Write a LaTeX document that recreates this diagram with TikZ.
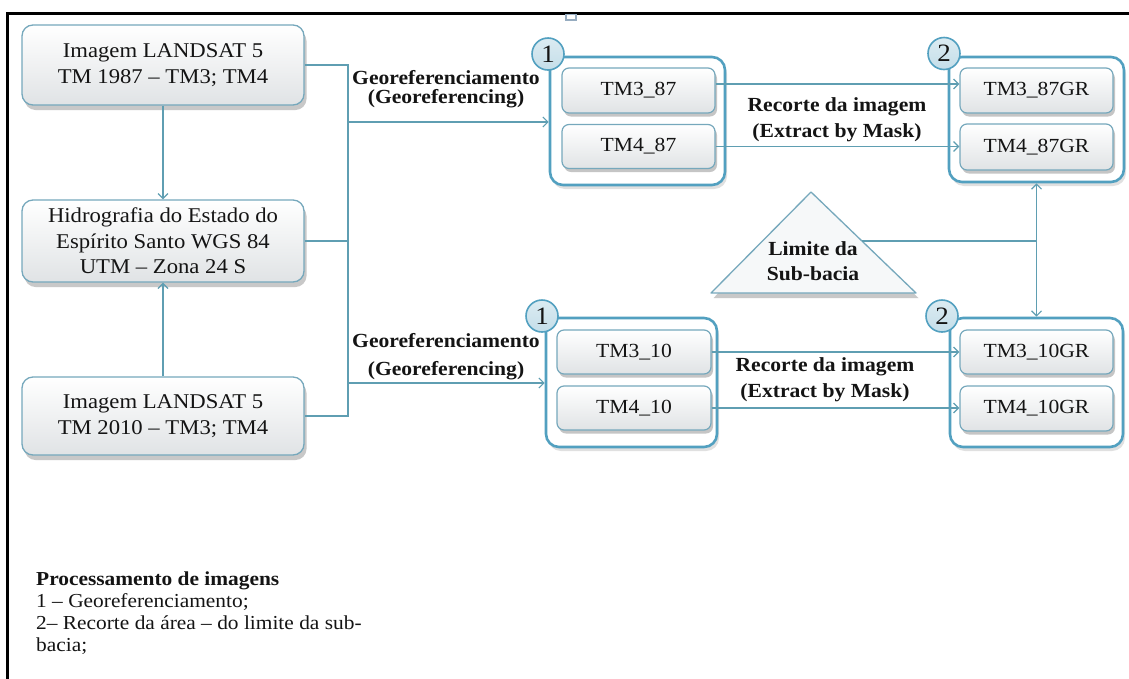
\documentclass[tikz,border=0pt]{standalone}
\usepackage{fontspec}
\setmainfont{Liberation Serif}[FakeStretch=1.08]
\usetikzlibrary{arrows.meta,shadows}
\definecolor{grpc}{RGB}{82,160,192}
\definecolor{connc}{RGB}{95,158,178}
\definecolor{boxc}{RGB}{118,168,188}
\definecolor{boxbot}{RGB}{224,227,229}
\definecolor{numfill}{RGB}{196,222,233}
\definecolor{trifill}{RGB}{246,248,249}
\definecolor{textc}{RGB}{20,20,20}
\definecolor{handlec}{RGB}{150,172,192}
\newcommand\bxfont{\fontsize{21}{25.5}\selectfont}
\newcommand\tmfont{\fontsize{20}{24}\selectfont}
\begin{document}
\begin{tikzpicture}[x=1pt,y=-1pt,
  shd/.style={drop shadow={shadow xshift=2.5pt,shadow yshift=-5pt,opacity=0.3,fill=black!70}},
  src/.style={draw=boxc,line width=1.3pt,rounded corners=11pt,top color=white,bottom color=boxbot,
    minimum width=282pt,align=center,font=\bxfont,text=textc,inner sep=0pt,shd},
  grp/.style={draw=grpc,line width=2.6pt,rounded corners=13pt,fill=white,inner sep=0pt,
    drop shadow={shadow xshift=2pt,shadow yshift=-4pt,opacity=0.2,fill=black!60}},
  inbox/.style={draw=boxc,line width=1.2pt,rounded corners=7pt,top color=white,bottom color=boxbot,
    minimum width=153pt,inner sep=0pt,font=\tmfont,text=textc,
    drop shadow={shadow xshift=2pt,shadow yshift=-3.5pt,opacity=0.32,fill=black!70}},
  num/.style={circle,draw=grpc,line width=1.6pt,top color=numfill!60,bottom color=numfill,minimum size=32pt,inner sep=0pt,
    font=\fontsize{25}{25}\selectfont,text=textc},
  conn/.style={draw=connc,line width=1.4pt},
  arr/.style={conn,-{Straight Barb[length=5pt,width=10pt,line width=1.2pt]}},
  darr/.style={conn,{Straight Barb[length=5pt,width=10pt,line width=1.2pt]}-{Straight Barb[length=5pt,width=10pt,line width=1.2pt]}},
  lbl/.style={align=center,inner sep=0pt,text=textc}
]
\useasboundingbox (0,0) rectangle (1129,678);
\fill[white] (0,0) rectangle (1129,678);
% frame
\draw[line width=3pt,black] (7,700) -- (7,13) -- (1150,13);
\draw[line width=1.2pt,draw=handlec] (566,14.5) rectangle (576,20);

% left boxes
\node[src,minimum height=80pt] (b1) at (163,65) {Imagem LANDSAT 5\\TM 1987 -- TM3; TM4};
\node[src,minimum height=82pt] (b2) at (163,241) {Hidrografia do Estado do\\Espírito Santo WGS 84\\UTM -- Zona 24 S};
\node[src,minimum height=78pt] (b3) at (163,416) {Imagem LANDSAT 5\\TM 2010 -- TM3; TM4};

% groups
\node[grp,minimum width=175pt,minimum height=128pt] (g1) at (637.5,121) {};
\node[grp,minimum width=175pt,minimum height=125pt] (g2) at (1036.5,119.5) {};
\node[grp,minimum width=171pt,minimum height=129pt] (g3) at (631.5,382.5) {};
\node[grp,minimum width=173pt,minimum height=129pt] (g4) at (1036.5,382.5) {};

% inner boxes
\node[inbox,minimum height=45pt] (t387) at (638.5,90.5) {TM3\_87};
\node[inbox,minimum height=44pt] (t487) at (638.5,146.5) {TM4\_87};
\node[inbox,minimum height=45pt] (t387g) at (1036.5,90.5) {TM3\_87GR};
\node[inbox,minimum height=46pt] (t487g) at (1036.5,147) {TM4\_87GR};
\node[inbox,minimum height=44pt,minimum width=154pt] (t310) at (634,352) {TM3\_10};
\node[inbox,minimum height=44pt,minimum width=154pt] (t410) at (634,408) {TM4\_10};
\node[inbox,minimum height=44pt] (t310g) at (1036.5,352) {TM3\_10GR};
\node[inbox,minimum height=45pt] (t410g) at (1036.5,408.5) {TM4\_10GR};

% number circles
\node[num] (n1a) at (548,54) {1};
\node[num] (n2a) at (944,53.5) {2};
\node[num] (n1b) at (542,316) {1};
\node[num] (n2b) at (942,316) {2};

% triangle
\coordinate (tl) at (711,293);
\coordinate (tt) at (811,192);
\coordinate (tr) at (916,293);
\coordinate (tside) at (862,241);
\path[draw=boxc,line width=1.3pt,fill=trifill,line join=round,
  drop shadow={shadow xshift=2.5pt,shadow yshift=-5pt,opacity=0.3,fill=black!70}]
  (tl) -- (tt) -- (tr) -- cycle;
\node[lbl,font=\fontsize{20}{25}\selectfont\bfseries] (lim) at (813,261) {Limite da\\Sub-bacia};

% left connectors
\draw[arr] (b1.south) -- (b2.north);
\draw[arr] (b3.north) -- (b2.south);
\coordinate (jtop) at (348,65);
\coordinate (jbot) at (348,416);
\coordinate (ja) at (348,122);
\coordinate (jb) at (348,383);
\draw[conn] (b1.east) -- (jtop) -- (jbot) -- (b3.east);
\draw[conn] (b2.east) -- (b2.east -| jtop);
\draw[arr] (ja) -- (ja -| g1.west);
\draw[arr] (jb) -- (jb -| g3.west);

% labels
\node[lbl,font=\fontsize{20}{18.5}\selectfont\bfseries] (geo1) at (446,89) {Georeferenciamento\\(Georeferencing)};
\node[lbl,font=\fontsize{20}{28}\selectfont\bfseries] (geo2) at (446,357) {Georeferenciamento\\(Georeferencing)};
\node[lbl,font=\fontsize{20}{26}\selectfont\bfseries] (rec1) at (837,120) {Recorte da imagem\\(Extract by Mask)};
\node[lbl,font=\fontsize{20}{26}\selectfont\bfseries] (rec2) at (825,380) {Recorte da imagem\\(Extract by Mask)};

% group-to-group arrows
\draw[arr] ([yshift=6.5pt]t387.east) -- ([yshift=6.5pt]t387.east -| t387g.west);
\draw[arr] (t487.east) -- (t487.east -| t487g.west);
\draw[arr] (t310.east) -- (t310.east -| t310g.west);
\draw[arr] (t410.east) -- (t410.east -| t410g.west);

% limit connectors
\draw[darr] (g2.south) -- (g4.north);
\draw[conn] (tside) -- (tside -| g2.south);

% legend
\node[anchor=north west,align=left,inner sep=0pt,text=textc,font=\fontsize{19.8}{21.7}\selectfont] (leg) at (36,572)
 {\textbf{Processamento de imagens}\\1 -- Georeferenciamento;\\2-- Recorte da área -- do limite da sub-\\bacia;};
\end{tikzpicture}
\end{document}
